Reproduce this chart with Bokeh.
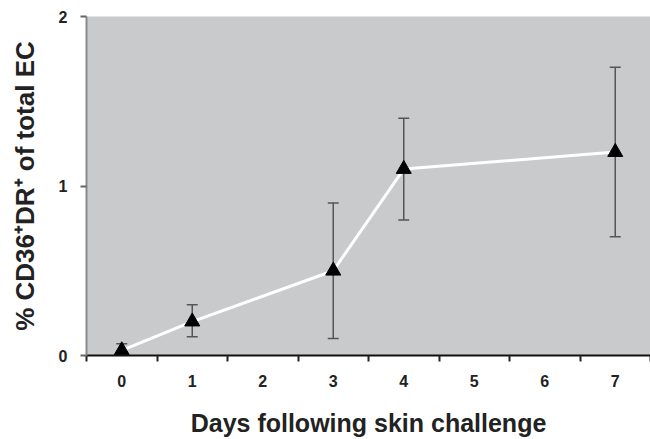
from bokeh.plotting import figure
from bokeh.models import ColumnDataSource, Whisker, TeeHead, FixedTicker, Range1d
from bokeh.embed import file_html
from bokeh.resources import INLINE

days = [0, 1, 3, 4, 7]
means = [0.03, 0.20, 0.50, 1.10, 1.20]
lower = [0.00, 0.11, 0.10, 0.80, 0.70]
upper = [0.07, 0.30, 0.90, 1.40, 1.70]
tick_labels = ["0", "1", "2", "3", "4", "5", "6", "7"]
y_ticks = [0, 1, 2]

src = ColumnDataSource(dict(x=days, y=means, lo=lower, hi=upper))

p = figure(width=650, height=439, output_backend="svg", toolbar_location=None,
           x_range=Range1d(-0.5, 7.5), y_range=Range1d(0, 2),
           min_border_left=86, min_border_right=0, min_border_top=16, min_border_bottom=83)
p.background_fill_color = "#c9cacc"
p.border_fill_color = "white"
p.outline_line_color = None
p.grid.visible = False

centers = list(range(len(tick_labels)))
bounds = [c - 0.5 for c in centers] + [len(tick_labels) - 0.5]
p.xaxis.ticker = FixedTicker(ticks=centers, minor_ticks=bounds)
p.xaxis.major_label_overrides = {i: t for i, t in enumerate(tick_labels)}
p.xaxis.major_tick_out = 0
p.xaxis.major_tick_in = 0
p.xaxis.minor_tick_out = 6
p.xaxis.minor_tick_in = 0
p.xaxis.minor_tick_line_color = "#222222"
p.xaxis.minor_tick_line_width = 2
p.xaxis.axis_line_color = "#111111"
p.xaxis.axis_line_width = 2
p.xaxis.major_label_standoff = 13
p.xaxis.axis_label = "Days following skin challenge"
p.xaxis.axis_label_standoff = 19

p.yaxis.ticker = FixedTicker(ticks=y_ticks, minor_ticks=[])
p.yaxis.major_tick_out = 6
p.yaxis.major_tick_in = 0
p.yaxis.major_tick_line_color = "#666666"
p.yaxis.major_tick_line_width = 2
p.yaxis.axis_line_color = "#8a8a8a"
p.yaxis.axis_line_width = 2
p.yaxis.major_label_standoff = 13
p.yaxis.axis_label = "% CD36\u207aDR\u207a of total EC"
p.yaxis.axis_label_standoff = 16

for ax in (p.xaxis, p.yaxis):
    ax.major_label_text_font = "Liberation Sans"
    ax.major_label_text_font_style = "bold"
    ax.major_label_text_font_size = "16px"
    ax.major_label_text_color = "#222222"
    ax.axis_label_text_font = "Liberation Sans"
    ax.axis_label_text_font_style = "bold"
    ax.axis_label_text_color = "#222222"
p.xaxis.axis_label_text_font_size = "25px"
p.yaxis.axis_label_text_font_size = "26px"

w = Whisker(base="x", lower="lo", upper="hi", source=src,
            line_color="#555555", line_width=1.5,
            upper_head=TeeHead(size=11, line_color="#555555", line_width=1.5),
            lower_head=TeeHead(size=11, line_color="#555555", line_width=1.5))
p.add_layout(w)

p.line("x", "y", source=src, line_color="white", line_width=3)
p.scatter("x", "y", source=src, marker="triangle", size=15, fill_color="black", line_color="black")

open("out.html", "w").write(file_html(p, INLINE))
